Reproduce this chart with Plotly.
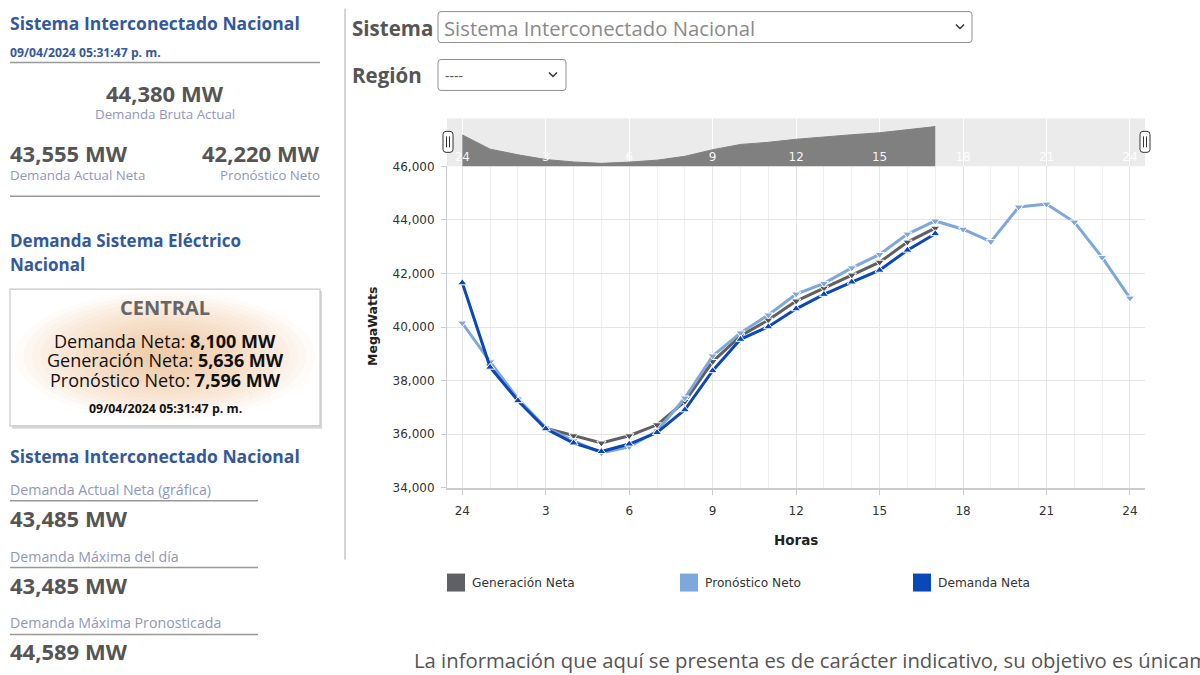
import plotly.graph_objects as go

W, H = 1200, 675
# measured mapping of the rendered page: target_y = 6.4 + 0.981 * layout_y
Y_OFF, Y_SPAN = 6.4, 662.2


def px(x):
    return x / W


def py(y):
    return 1 - (y - Y_OFF) / Y_SPAN


# ---------------- data ----------------
hours = list(range(25))
tick_hours = [0, 3, 6, 9, 12, 15, 18, 21, 24]
tick_labels = ["24", "3", "6", "9", "12", "15", "18", "21", "24"]
y_ticks = [34000, 36000, 38000, 40000, 42000, 44000, 46000]

demanda_neta = [41650, 38500, 37250, 36200, 35670, 35350, 35630, 36060, 36910,
                38370, 39540, 40010, 40680, 41220, 41680, 42120, 42870, 43485]
generacion_neta = [None, 38550, 37280, 36220, 35940, 35670, 35940, 36350, 37220,
                   38710, 39670, 40260, 40970, 41450, 41940, 42420, 43170, 43690]
pronostico_neto = [40150, 38700, 37320, 36240, 35750, 35300, 35530, 36120, 37350,
                   38920, 39780, 40450, 41230, 41630, 42210, 42710, 43470, 43960,
                   43650, 43190, 44480, 44589, 43920, 42600, 41080]

series_names = ["Generación Neta", "Pronóstico Neto", "Demanda Neta"]
series_colors = ["#5f5f66", "#7ea7dc", "#0a48b8"]

CHART_FONT = "DejaVu Sans"
PANEL_FONT = "Open Sans"
BLUE_TITLE = "#34589c"
NUM_GRAY = "#555555"
LABEL_GRAY = "#8f97bb"

fig = go.Figure()

fig.add_trace(go.Scatter(
    x=hours[:len(generacion_neta)], y=generacion_neta, name=series_names[0],
    mode="lines+markers", line=dict(color="#606060", width=3),
    marker=dict(symbol="triangle-down", size=8, color="#555555",
                line=dict(color="white", width=1)),
    showlegend=False, xaxis="x", yaxis="y"))
fig.add_trace(go.Scatter(
    x=hours[:len(pronostico_neto)], y=pronostico_neto, name=series_names[1],
    mode="lines+markers", line=dict(color=series_colors[1], width=3),
    marker=dict(symbol="triangle-down", size=8, color=series_colors[1],
                line=dict(color="white", width=1)),
    showlegend=False, xaxis="x", yaxis="y"))
fig.add_trace(go.Scatter(
    x=hours[:len(demanda_neta)], y=demanda_neta, name=series_names[2],
    mode="lines+markers", line=dict(color=series_colors[2], width=3),
    marker=dict(symbol="triangle-up", size=8, color=series_colors[2],
                line=dict(color="white", width=1)),
    showlegend=False, xaxis="x", yaxis="y"))

# navigator
fig.add_trace(go.Scatter(
    x=hours[:len(demanda_neta)], y=demanda_neta, mode="lines",
    fill="tozeroy", fillcolor="#808080", line=dict(color="#808080", width=1),
    showlegend=False, hoverinfo="skip", xaxis="x2", yaxis="y2"))

shapes = []
annotations = []


def line(x0, y0, x1, y1, color="#999999", width=1.5):
    shapes.append(dict(type="line", xref="paper", yref="paper",
                       x0=px(x0), y0=py(y0), x1=px(x1), y1=py(y1),
                       line=dict(color=color, width=width)))


def rect(x0, y0, x1, y1, fill=None, color=None, width=1, layer="above", opacity=1):
    shapes.append(dict(type="rect", xref="paper", yref="paper",
                       x0=px(x0), y0=py(y0), x1=px(x1), y1=py(y1),
                       fillcolor=fill if fill else "rgba(0,0,0,0)",
                       line=dict(color=color if color else "rgba(0,0,0,0)", width=width if color else 0),
                       layer=layer, opacity=opacity))


def rrect(x0, y0, x1, y1, r, fill="white", color="#999", width=1, layer="above"):
    def p(x, y):
        return f"{px(x):.6f},{py(y):.6f}"
    path = (f"M {p(x0 + r, y0)} L {p(x1 - r, y0)} Q {p(x1, y0)} {p(x1, y0 + r)} "
            f"L {p(x1, y1 - r)} Q {p(x1, y1)} {p(x1 - r, y1)} "
            f"L {p(x0 + r, y1)} Q {p(x0, y1)} {p(x0, y1 - r)} "
            f"L {p(x0, y0 + r)} Q {p(x0, y0)} {p(x0 + r, y0)} Z")
    shapes.append(dict(type="path", xref="paper", yref="paper", path=path,
                       fillcolor=fill, line=dict(color=color, width=width), layer=layer))


def text(x, y, s, size=13, color="#333", family=PANEL_FONT, anchor="left", angle=0):
    annotations.append(dict(x=px(x), y=py(y), xref="paper", yref="paper", text=s,
                            showarrow=False, xanchor=anchor, yanchor="middle",
                            textangle=angle,
                            font=dict(size=size, color=color, family=family)))


# ---------- left panel ----------
text(8, 22, "<b>Sistema Interconectado Nacional</b>", 17.5, BLUE_TITLE)
text(8, 52, "<b>09/04/2024 05:31:47 p. m.</b>", 12.2, BLUE_TITLE)
line(10, 62, 320, 62, "#999999", 1.5)
text(165, 93, "<b>44,380 MW</b>", 22, NUM_GRAY, anchor="center")
text(165, 114, "Demanda Bruta Actual", 13.3, LABEL_GRAY, anchor="center")
text(8, 153, "<b>43,555 MW</b>", 22, NUM_GRAY)
text(8, 175, "Demanda Actual Neta", 13.3, LABEL_GRAY)
text(322, 153, "<b>42,220 MW</b>", 22, NUM_GRAY, anchor="right")
text(322, 175, "Pronóstico Neto", 13.3, LABEL_GRAY, anchor="right")
line(10, 196, 320, 196, "#999999", 1.5)
text(8, 240, "<b>Demanda Sistema Eléctrico</b>", 17, BLUE_TITLE)
text(8, 264, "<b>Nacional</b>", 17, BLUE_TITLE)

# central box with soft peach glow
rect(12, 291, 322, 429, fill="#d9d9d9")
rect(10, 289, 320, 426, fill="#ffffff")
n_glow = 16
for i in range(n_glow):
    rx = 150 - i * 8.5
    ry = 64 - i * 3.6
    shapes.append(dict(type="circle", xref="paper", yref="paper",
                       x0=px(165 - rx), x1=px(165 + rx), y0=py(356 - ry), y1=py(356 + ry),
                       fillcolor="#f3b87a", opacity=0.05, line=dict(width=0)))
rect(10, 289, 320, 426, color="#c8c8c8", width=1.2)
text(165, 307, "<b>CENTRAL</b>", 20, "#666666", anchor="center")
text(165, 341, "Demanda Neta: <b>8,100 MW</b>", 18, "#111111", anchor="center")
text(165, 360, "Generación Neta: <b>5,636 MW</b>", 18, "#111111", anchor="center")
text(165, 380, "Pronóstico Neto: <b>7,596 MW</b>", 18, "#111111", anchor="center")
text(165, 409, "<b>09/04/2024 05:31:47 p. m.</b>", 12.4, "#111111", anchor="center")

text(8, 456, "<b>Sistema Interconectado Nacional</b>", 17.5, BLUE_TITLE)
text(8, 490, "Demanda Actual Neta (gráfica)", 14.2, LABEL_GRAY)
line(10, 501, 258, 501, "#999999", 1.5)
text(8, 518, "<b>43,485 MW</b>", 22, NUM_GRAY)
text(8, 557, "Demanda Máxima del día", 14.2, LABEL_GRAY)
line(10, 568, 258, 568, "#999999", 1.5)
text(8, 585, "<b>43,485 MW</b>", 22, NUM_GRAY)
text(8, 623, "Demanda Máxima Pronosticada", 14.2, LABEL_GRAY)
line(10, 635, 258, 635, "#999999", 1.5)
text(8, 652, "<b>44,589 MW</b>", 22, NUM_GRAY)

# vertical separator
line(345, 8, 345, 560, "#aaaaaa", 1)

# ---------- selectors ----------
text(350, 27, "<b>Sistema</b>", 20.5, NUM_GRAY)
rrect(438, 11, 972, 42, 3, fill="white", color="#8f8f8f", width=1)
text(442, 27, "Sistema Interconectado Nacional", 20.3, "#8a8a8a")
shapes.append(dict(type="path", xref="paper", yref="paper",
                   path=f"M {px(956):.6f},{py(24):.6f} L {px(960):.6f},{py(28):.6f} L {px(964):.6f},{py(24):.6f}",
                   line=dict(color="#333333", width=1.5)))
text(350, 75, "<b>Región</b>", 20.5, NUM_GRAY)
rrect(438, 59, 566, 90, 3, fill="white", color="#8f8f8f", width=1)
text(443, 75, "----", 14, "#555555")
shapes.append(dict(type="path", xref="paper", yref="paper",
                   path=f"M {px(549):.6f},{py(72):.6f} L {px(553):.6f},{py(76):.6f} L {px(557):.6f},{py(72):.6f}",
                   line=dict(color="#333333", width=1.5)))

# ---------- navigator background and handles ----------
rect(447, 118, 1145, 166, fill="#ebebeb", layer="below")
for hx in [448, 1145]:
    rrect(hx - 5, 131, hx + 5, 152, 3, fill="#ffffff", color="#333333", width=1)
    line(hx - 1.5, 136, hx - 1.5, 147, "#333333", 1)
    line(hx + 1.5, 136, hx + 1.5, 147, "#333333", 1)

# ---------- axis titles ----------
text(372, 327, "<b>MegaWatts</b>", 12.5, "#222222", family=CHART_FONT, anchor="center", angle=-90)
text(796, 540, "<b>Horas</b>", 13.5, "#222222", family=CHART_FONT, anchor="center")

# ---------- legend ----------
leg_x = [447, 680, 913]
for lx, name, col in zip(leg_x, series_names, series_colors):
    rect(lx, 574, lx + 18, 592, fill=col)
    text(lx + 23, 583, name, 12.2, "#333333", family=CHART_FONT)

# ---------- footer ----------
text(412, 661, "La información que aquí se presenta es de carácter indicativo, su objetivo es únicamente",
     20.3, "#555555")

fig.update_layout(
    width=W, height=H,
    margin=dict(l=0, r=0, t=0, b=0),
    paper_bgcolor="white",
    plot_bgcolor="rgba(0,0,0,0)",
    showlegend=False,
    shapes=shapes,
    annotations=annotations,
    xaxis=dict(
        domain=[px(447), px(1145)], range=[-0.55, 24.54], anchor="y",
        tickmode="array", tickvals=tick_hours, ticktext=tick_labels,
        showgrid=True, gridcolor="#e6e6e6", gridwidth=1,
        minor=dict(tickmode="linear", tick0=0, dtick=1, showgrid=True,
                   gridcolor="#efefef", gridwidth=1, ticks=""),
        showline=True, linecolor="#cccccc", linewidth=1.5,
        ticks="outside", ticklen=6, tickcolor="#cccccc",
        ticklabelstandoff=5,
        tickfont=dict(family=CHART_FONT, size=12, color="#333333"),
        zeroline=False, fixedrange=True),
    yaxis=dict(
        domain=[py(488), py(166)], range=[34000, 46000], anchor="x",
        tickmode="array", tickvals=y_ticks, tickformat=",d",
        showgrid=True, gridcolor="#e6e6e6", gridwidth=1,
        showline=True, linecolor="#cccccc", linewidth=1,
        ticks="outside", ticklen=5, tickcolor="#cccccc",
        ticklabelstandoff=4,
        tickfont=dict(family=CHART_FONT, size=12, color="#333333"),
        zeroline=False, fixedrange=True),
    xaxis2=dict(
        domain=[px(447), px(1145)], range=[-0.55, 24.54], anchor="y2",
        tickmode="array", tickvals=tick_hours, ticktext=tick_labels,
        ticklabelposition="inside",
        showgrid=True, gridcolor="#ffffff", gridwidth=1,
        showline=False, ticks="",
        tickfont=dict(family=CHART_FONT, size=12, color="rgba(255,255,255,0.95)"),
        zeroline=False, fixedrange=True),
    yaxis2=dict(
        domain=[py(166), py(118)], range=[34700, 45300], anchor="x2",
        showgrid=False, showticklabels=False, showline=False, ticks="",
        zeroline=False, fixedrange=True),
)

fig.write_html("out.html")
